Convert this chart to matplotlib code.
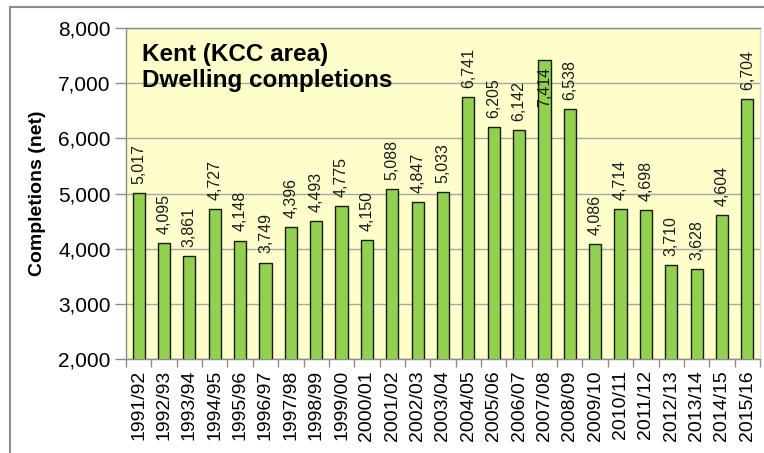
import numpy as np
import matplotlib.pyplot as plt
from matplotlib.lines import Line2D

plt.rcParams['font.family'] = ['Liberation Sans', 'DejaVu Sans']

years = ['1991/92', '1992/93', '1993/94', '1994/95', '1995/96', '1996/97',
         '1997/98', '1998/99', '1999/00', '2000/01', '2001/02', '2002/03',
         '2003/04', '2004/05', '2005/06', '2006/07', '2007/08', '2008/09',
         '2009/10', '2010/11', '2011/12', '2012/13', '2013/14', '2014/15',
         '2015/16']
completions = [5017, 4095, 3861, 4727, 4148, 3749, 4396, 4493, 4775, 4150,
               5088, 4847, 5033, 6741, 6205, 6142, 7414, 6538, 4086, 4714,
               4698, 3710, 3628, 4604, 6704]

y_min, y_max = 2000, 8000

fig = plt.figure(figsize=(7.64, 4.53), dpi=100)
ax = fig.add_axes([126/764, 1-359/453, (760-126)/764, (359-28)/453])
ax.set_facecolor('#FFFFCC')

x = np.arange(len(years))
ax.bar(x, completions, width=0.48, color='#92D050', edgecolor='#1a1a1a',
       linewidth=1, zorder=3)

# value labels, rotated like the excel chart
for xi, v in zip(x, completions):
    lab = format(v, ',')
    if v > 7000:
        ax.annotate(lab, (xi, v), xytext=(0, -5), textcoords='offset points',
                    rotation=90, ha='center', va='top', fontsize=11.5,
                    color='#1a1a1a', zorder=4)
    else:
        ax.annotate(lab, (xi, v), xytext=(0, 6.5), textcoords='offset points',
                    rotation=90, ha='center', va='bottom', fontsize=11.5,
                    color='#1a1a1a', zorder=4)

ax.set_ylim(y_min, y_max)
ax.set_xlim(-0.5, len(years)-0.5)
ax.set_yticks(range(y_min, y_max+1, 1000))
ax.set_yticklabels([format(t, ',') for t in range(y_min, y_max+1, 1000)], fontsize=15)
ax.yaxis.grid(True, color='#A6A6A6', linewidth=1, zorder=1)

ax.set_xticks(x)
ax.set_xticklabels(years, rotation=90, fontsize=14)
ax.tick_params(axis='x', length=0, pad=8)
ax.set_xticks(np.arange(-0.5, len(years), 1), minor=True)
ax.tick_params(axis='x', which='minor', length=6, color='#8c8c8c', width=1)
ax.tick_params(axis='y', length=8, color='#8c8c8c', width=1, pad=3)

for s in ax.spines.values():
    s.set_color('#8c8c8c')
    s.set_linewidth(1)
ax.spines['right'].set_color('#d9d9d9')

ax.set_ylabel('Completions (net)', fontsize=14, fontweight='bold', labelpad=9)

ax.text(0.025, 0.955, 'Kent (KCC area)\nDwelling completions', transform=ax.transAxes,
        fontsize=17.5, fontweight='bold', va='top', ha='left', linespacing=1.2,
        zorder=5)

# outer chart border (cut off at right and bottom in the original)
fig.add_artist(Line2D([10/764, 10/764], [0, 1-7/453], color='#8c8c8c', linewidth=1.5))
fig.add_artist(Line2D([10/764, 1], [1-7/453, 1-7/453], color='#8c8c8c', linewidth=1.5))

fig.savefig('out.png', dpi=100)
